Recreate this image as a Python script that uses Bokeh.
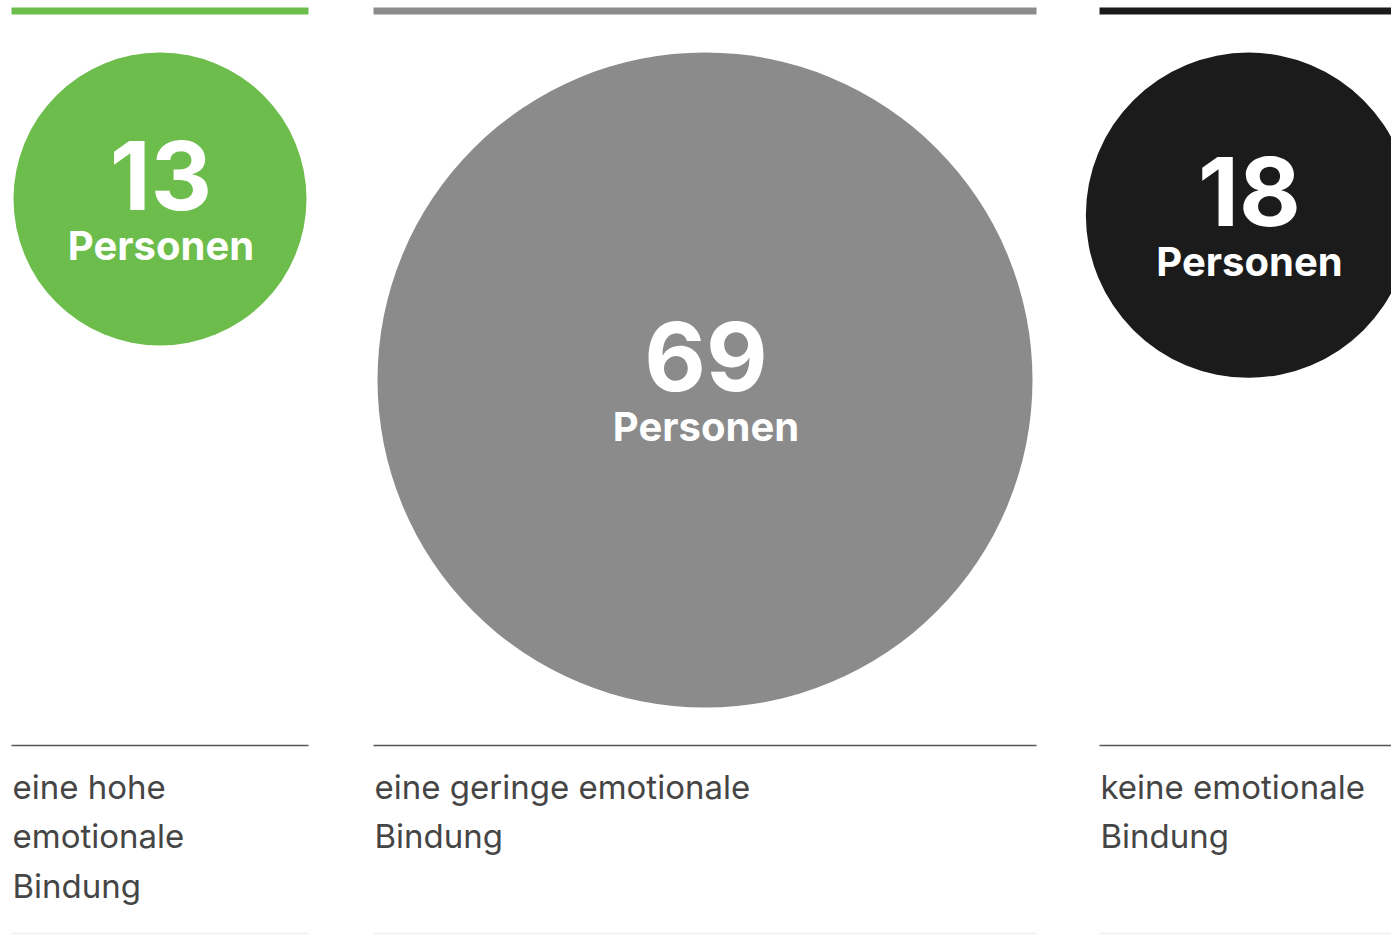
from bokeh.plotting import figure
from bokeh.models import Range1d
from bokeh.core.properties import value
from bokeh.embed import file_html
from bokeh.resources import INLINE

# ---- data ----
categories = ["hoch", "gering", "keine"]
persons = [13, 69, 18]
number_labels = ["13", "69", "18"]
unit_label = "Personen"
description_lines = [
    ["eine hohe", "emotionale", "Bindung"],
    ["eine geringe emotionale", "Bindung"],
    ["keine emotionale", "Bindung"],
]
colors = ["#6cbd4b", "#8a8b8a", "#1b1b1b"]

# ---- layout (pixel coordinates) ----
FW, FH = 1391, 935
col_left = [11, 373, 1099]
col_right = [308, 1036, 1397]
circle_top = 52
R_MIN, R_MAX = 146.5, 327.5
bar_top, bar_bottom = 7, 14
rule_y = 745
text_y0 = 798
line_gap = 49.5
bottom_rule_y = 933
NUM_SIZE, UNIT_SIZE, LABEL_SIZE = 95, 40, 33
SHIFT = 0.36  # baseline correction factor (em)

vmin, vmax = min(persons), max(persons)
radii = [R_MIN + (v - vmin) / (vmax - vmin) * (R_MAX - R_MIN) for v in persons]
cx = [(l + r) / 2 for l, r in zip(col_left, col_right)]
cy = [circle_top + r for r in radii]

p = figure(width=FW, height=FH, output_backend="svg", toolbar_location=None,
           x_range=Range1d(0, FW), y_range=Range1d(FH, 0),
           x_axis_location=None, y_axis_location=None,
           min_border=0, min_border_left=0, min_border_right=0,
           min_border_top=0, min_border_bottom=0)
p.grid.visible = False
p.outline_line_color = None
p.background_fill_color = "white"
p.border_fill_color = "white"

# top colored bars
p.quad(left=col_left, right=col_right, top=[bar_top] * 3, bottom=[bar_bottom] * 3,
       fill_color=colors, line_color=None)

# circles
p.circle(x=cx, y=cy, radius=radii, fill_color=colors, line_color=None)

# numbers and unit
p.text(x=[c + 1 for c in cx], y=[c + 11 - SHIFT * NUM_SIZE for c in cy], text=number_labels,
       text_align="center", text_baseline="alphabetic", text_color="white",
       text_font=value("Inter"), text_font_style="bold", text_font_size=f"{NUM_SIZE}px")
p.text(x=[c + 1 for c in cx], y=[c + 61 - SHIFT * UNIT_SIZE for c in cy], text=[unit_label] * 3,
       text_align="center", text_baseline="alphabetic", text_color="white",
       text_font=value("Inter"), text_font_style="bold", text_font_size=f"{UNIT_SIZE}px")

# rules
p.segment(x0=col_left, x1=col_right, y0=[rule_y] * 3, y1=[rule_y] * 3,
          line_color="#555555", line_width=1.6)
p.segment(x0=col_left, x1=col_right, y0=[bottom_rule_y] * 3, y1=[bottom_rule_y] * 3,
          line_color="#eeeeee", line_width=1.5)

# description texts
tx, ty, tt = [], [], []
for l, lines in zip(col_left, description_lines):
    for i, s in enumerate(lines):
        tx.append(l + 1)
        ty.append(text_y0 + i * line_gap - SHIFT * LABEL_SIZE)
        tt.append(s)
p.text(x=tx, y=ty, text=tt, text_align="left", text_baseline="alphabetic",
       text_color="#454545", text_font=value("Inter"), text_font_size=f"{LABEL_SIZE}px")

open("out.html", "w").write(file_html(p, INLINE))
